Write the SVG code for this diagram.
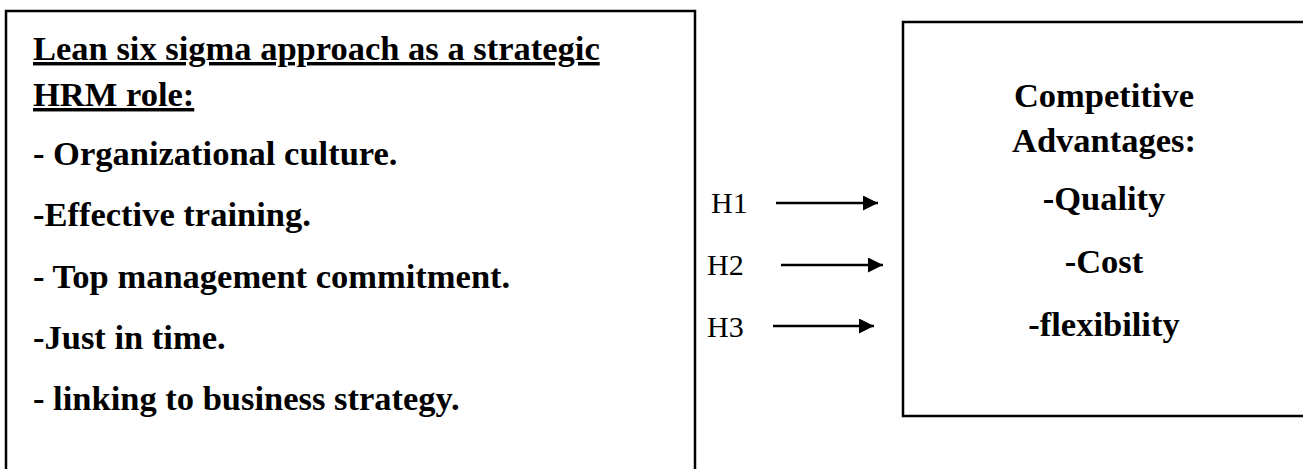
<svg xmlns="http://www.w3.org/2000/svg" width="1303" height="469" viewBox="0 0 1303 469">
<style>
.box{fill:#fff;stroke:#000;stroke-width:2.5}
.b{font-family:"Liberation Serif","Times New Roman",serif;font-weight:bold;font-size:34.5px;fill:#000}
.h{font-family:"Liberation Serif","Times New Roman",serif;font-size:30px;fill:#000}
.c{text-anchor:middle}
.conn{stroke:#000;stroke-width:2.5;fill:none}
</style>
<defs>
<marker id="ah" viewBox="0 0 10 10" refX="10" refY="5" markerWidth="6.5" markerHeight="6" markerUnits="strokeWidth" orient="auto">
<path d="M0,0 L10,5 L0,10 z" fill="#000"/>
</marker>
</defs>
<rect width="1303" height="469" fill="#fff"/>
<g id="left-node">
<rect class="box" x="6" y="11" width="689" height="480"/>
<text class="b" x="33" y="60" text-decoration="underline">Lean six sigma approach as a strategic</text>
<text class="b" x="33" y="106" text-decoration="underline">HRM role:</text>
<text class="b" x="33" y="165">- Organizational culture.</text>
<text class="b" x="33" y="226">-Effective training.</text>
<text class="b" x="33" y="288">- Top management commitment.</text>
<text class="b" x="33" y="349">-Just in time.</text>
<text class="b" x="33" y="410">- linking to business strategy.</text>
</g>
<g id="right-node">
<rect class="box" x="903" y="22" width="420" height="394"/>
<text class="b c" x="1104" y="107">Competitive</text>
<text class="b c" x="1104" y="152">Advantages:</text>
<text class="b c" x="1104" y="210">-Quality</text>
<text class="b c" x="1104" y="273">-Cost</text>
<text class="b c" x="1104" y="336">-flexibility</text>
</g>
<g id="connectors">
<line class="conn" x1="776" y1="203" x2="878" y2="203" marker-end="url(#ah)"/>
<line class="conn" x1="781" y1="265" x2="883" y2="265" marker-end="url(#ah)"/>
<line class="conn" x1="773" y1="326" x2="874" y2="326" marker-end="url(#ah)"/>
</g>
<g id="labels">
<text class="h" x="711" y="213">H1</text>
<text class="h" x="707" y="275">H2</text>
<text class="h" x="707" y="337">H3</text>
</g>
</svg>
